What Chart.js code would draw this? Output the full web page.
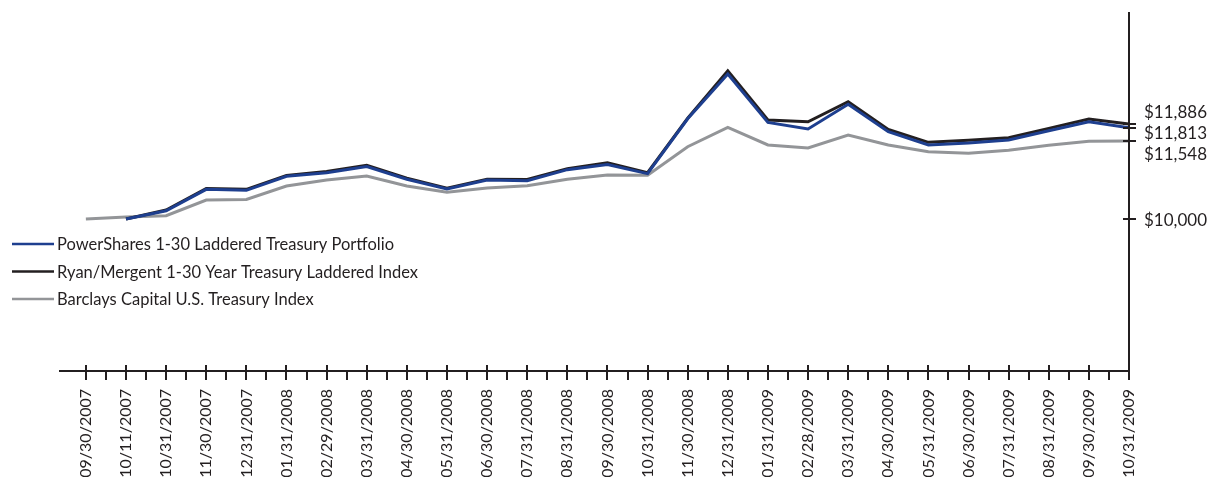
<!DOCTYPE html>
<html>
<head>
<meta charset="utf-8">
<script src="https://cdn.jsdelivr.net/npm/chart.js@4"></script>
<style>
  html, body { margin: 0; padding: 0; background: #fff; }
  canvas { display: block; }
</style>
</head>
<body>
<canvas id="growth" width="1216" height="477"></canvas>
<script>
// Growth of $10,000.
const DATES = [
  "09/30/2007", "10/11/2007", "10/31/2007", "11/30/2007", "12/31/2007",
  "01/31/2008", "02/29/2008", "03/31/2008", "04/30/2008", "05/31/2008",
  "06/30/2008", "07/31/2008", "08/31/2008", "09/30/2008", "10/31/2008",
  "11/30/2008", "12/31/2008", "01/31/2009", "02/28/2009", "03/31/2009",
  "04/30/2009", "05/31/2009", "06/30/2009", "07/31/2009", "08/31/2009",
  "09/30/2009", "10/31/2009",
];

const POWERSHARES = [
  null, 10000, 10165, 10590, 10570, 10850, 10920, 11040, 10790, 10595,
  10775, 10760, 10980, 11080, 10900, 11990, 12878, 11919, 11787, 12277,
  11734, 11469, 11509, 11568, 11753, 11932, 11813,
];

const RYAN_MERGENT = [
  null, 10000, 10180, 10605, 10590, 10865, 10945, 11065, 10810, 10610,
  10790, 10785, 11000, 11115, 10920, 12000, 12944, 11965, 11930, 12330,
  11780, 11522, 11562, 11614, 11800, 11985, 11886,
];

const BARCLAYS = [
  10000, 10040, 10066, 10377, 10390, 10655, 10774, 10854, 10655, 10530,
  10615, 10660, 10790, 10875, 10870, 11435, 11820, 11470, 11410, 11668,
  11470, 11336, 11304, 11364, 11463, 11543, 11548,
];

const SERIES_NAMES = [
  "PowerShares 1-30 Laddered Treasury Portfolio",
  "Ryan/Mergent 1-30 Year Treasury Laddered Index",
  "Barclays Capital U.S. Treasury Index",
];
const SERIES_COLORS = ["#1e3f8f", "#231f20", "#939598"];

const Y_TICKS = [10000, 11548, 11813, 11886];

const INK = "#231f20";
const FONT = "Lato, 'Noto Sans', sans-serif";

function money(v) {
  return "$" + v.toLocaleString("en-US");
}

// Axis lines, tick marks, right-hand value labels and the legend are all
// drawn here so they can sit where the original print layout put them.
const decorations = {
  id: "decorations",
  afterDraw(chart) {
    const { ctx, chartArea: area, scales: { x, y } } = chart;
    ctx.save();
    ctx.strokeStyle = INK;
    ctx.lineWidth = 2;

    // axis lines
    ctx.beginPath();
    ctx.moveTo(area.left, area.bottom);
    ctx.lineTo(area.right, area.bottom);
    ctx.moveTo(area.right, area.top);
    ctx.lineTo(area.right, area.bottom + 1);
    ctx.stroke();

    // x ticks: long ones at each date, short ones half way between
    ctx.beginPath();
    DATES.forEach((_, i) => {
      const px = Math.round(x.getPixelForValue(i));
      ctx.moveTo(px, area.bottom - 6);
      ctx.lineTo(px, area.bottom + 9);
      if (i > 0) {
        const mid = Math.round(x.getPixelForValue(i - 0.5));
        ctx.moveTo(mid, area.bottom);
        ctx.lineTo(mid, area.bottom + 9);
      }
    });
    ctx.stroke();

    // y ticks
    ctx.beginPath();
    Y_TICKS.forEach((v) => {
      const py = Math.round(y.getPixelForValue(v));
      ctx.moveTo(area.right - 6, py);
      ctx.lineTo(area.right + 7, py);
    });
    ctx.stroke();

    // y labels, spread apart (around the middle of the group) when ticks crowd
    const gap = 21;
    const items = Y_TICKS.map((v) => ({ v, tick: y.getPixelForValue(v) }))
      .sort((a, b) => a.tick - b.tick);
    const clusters = [];
    items.forEach((it) => {
      const last = clusters[clusters.length - 1];
      if (last && it.tick - last[last.length - 1].tick < gap) last.push(it);
      else clusters.push([it]);
    });
    ctx.fillStyle = INK;
    ctx.font = `17px ${FONT}`;
    ctx.textAlign = "left";
    ctx.textBaseline = "middle";
    clusters.forEach((c) => {
      const centre = (c[0].tick + c[c.length - 1].tick) / 2;
      const start = centre - ((c.length - 1) * gap) / 2;
      c.forEach((it, k) => ctx.fillText(money(it.v), area.right + 15, start + k * gap + 1));
    });

    // legend
    ctx.font = `16.5px ${FONT}`;
    SERIES_NAMES.forEach((name, i) => {
      const rowY = 244 + i * 27.5;
      ctx.strokeStyle = SERIES_COLORS[i];
      ctx.lineWidth = 2.5;
      ctx.beginPath();
      ctx.moveTo(12, rowY);
      ctx.lineTo(54, rowY);
      ctx.stroke();
      ctx.fillStyle = INK;
      ctx.fillText(name, 57, rowY + 1);
    });

    ctx.restore();
  },
};

const seriesData = [POWERSHARES, RYAN_MERGENT, BARCLAYS];

new Chart(document.getElementById("growth"), {
  type: "line",
  data: {
    labels: DATES,
    datasets: SERIES_NAMES.map((name, i) => ({
      label: name,
      data: seriesData[i].map((v, k) => ({ x: k, y: v })),
      borderColor: SERIES_COLORS[i],
      borderWidth: 3,
      pointRadius: 0,
      tension: 0,
      spanGaps: false,
    })),
  },
  options: {
    responsive: false,
    animation: false,
    devicePixelRatio: 1,
    layout: { padding: { left: 59, top: 12, right: 0, bottom: 0 } },
    plugins: { legend: { display: false }, tooltip: { enabled: false } },
    scales: {
      x: {
        type: "linear",
        min: -0.67,
        max: DATES.length - 1,
        afterBuildTicks(scale) {
          scale.ticks = DATES.map((_, i) => ({ value: i }));
        },
        afterFit(scale) {
          scale.height = 106;
        },
        grid: { display: false, drawTicks: false },
        border: { display: false },
        ticks: {
          autoSkip: false,
          minRotation: 90,
          maxRotation: 90,
          padding: 18,
          color: INK,
          font: { family: FONT, size: 16 },
          callback: (v) => DATES[v],
        },
      },
      y: {
        position: "right",
        min: 6983,
        max: 14110,
        afterFit(scale) {
          scale.width = 87;
        },
        grid: { display: false, drawTicks: false },
        border: { display: false },
        ticks: { display: false },
      },
    },
  },
  plugins: [decorations],
});
</script>
</body>
</html>
